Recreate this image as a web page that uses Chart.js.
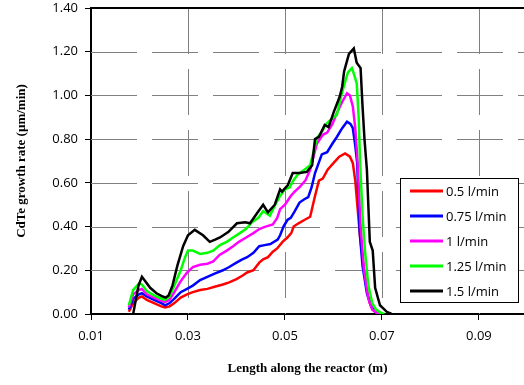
<!DOCTYPE html>
<html>
<head>
<meta charset="utf-8">
<script src="https://cdn.jsdelivr.net/npm/chart.js"></script>
<style>
  html, body { margin: 0; padding: 0; background: #fff; overflow: hidden; }
</style>
</head>
<body>
<canvas id="growth" width="524" height="385"></canvas>
<script>
// growth rate (um/min) along the reactor (m), one list of [x, y] per flow rate
var seriesNames = ["0.5 l/min", "0.75 l/min", "1 l/min", "1.25 l/min", "1.5 l/min"];
var seriesColors = ["#ff0000", "#0000ff", "#ff00ff", "#00ff00", "#000000"];

var flow05 = [[0.0178,0.01],[0.0187,0.05],[0.0199,0.075],[0.0205,0.08],[0.0215,0.065],[0.0230,0.05],[0.0245,0.035],[0.0253,0.03],[0.0262,0.035],[0.0272,0.05],[0.0285,0.075],[0.0298,0.09],[0.0310,0.10],[0.0325,0.11],[0.0340,0.115],[0.0355,0.125],[0.0372,0.135],[0.0385,0.145],[0.0400,0.16],[0.0412,0.175],[0.0422,0.19],[0.0435,0.20],[0.0447,0.235],[0.0455,0.25],[0.0465,0.26],[0.0475,0.285],[0.0484,0.30],[0.0495,0.33],[0.0505,0.35],[0.0513,0.37],[0.0518,0.40],[0.0528,0.415],[0.0540,0.43],[0.0552,0.445],[0.0562,0.54],[0.0570,0.61],[0.0578,0.62],[0.0588,0.66],[0.0600,0.69],[0.0612,0.72],[0.0624,0.735],[0.0634,0.72],[0.0640,0.69],[0.0645,0.61],[0.0650,0.48],[0.0655,0.35],[0.0662,0.22],[0.0669,0.11],[0.0675,0.05],[0.0681,0.02],[0.0688,0.005],[0.0695,0]];

var flow075 = [[0.0178,0.02],[0.0187,0.07],[0.0199,0.09],[0.0205,0.095],[0.0215,0.08],[0.0230,0.065],[0.0245,0.05],[0.0253,0.04],[0.0262,0.05],[0.0272,0.07],[0.0285,0.10],[0.0298,0.115],[0.0310,0.13],[0.0325,0.155],[0.0340,0.17],[0.0355,0.185],[0.0372,0.20],[0.0385,0.215],[0.0400,0.235],[0.0412,0.25],[0.0422,0.26],[0.0435,0.28],[0.0447,0.31],[0.0458,0.315],[0.0470,0.32],[0.0485,0.34],[0.0490,0.36],[0.0497,0.40],[0.0505,0.43],[0.0512,0.44],[0.0520,0.47],[0.0530,0.51],[0.0540,0.525],[0.0548,0.535],[0.0555,0.58],[0.0562,0.645],[0.0576,0.73],[0.0587,0.74],[0.0598,0.78],[0.0607,0.81],[0.0618,0.85],[0.0628,0.88],[0.0635,0.87],[0.0640,0.85],[0.0645,0.77],[0.0649,0.69],[0.0654,0.38],[0.0660,0.22],[0.0669,0.095],[0.0678,0.035],[0.0686,0.01],[0.0695,0]];

var flow1 = [[0.0178,0.03],[0.0187,0.09],[0.0199,0.11],[0.0205,0.115],[0.0215,0.09],[0.0230,0.075],[0.0245,0.06],[0.0253,0.055],[0.0262,0.065],[0.0272,0.10],[0.0285,0.15],[0.0298,0.19],[0.0310,0.215],[0.0325,0.225],[0.0340,0.23],[0.0352,0.24],[0.0365,0.27],[0.0380,0.29],[0.0393,0.31],[0.0405,0.33],[0.0420,0.35],[0.0435,0.37],[0.0448,0.39],[0.0460,0.40],[0.0475,0.41],[0.0484,0.44],[0.0490,0.48],[0.0500,0.50],[0.0512,0.54],[0.0520,0.56],[0.0530,0.58],[0.0542,0.61],[0.0552,0.66],[0.0560,0.73],[0.0566,0.78],[0.0578,0.82],[0.0587,0.83],[0.0598,0.87],[0.0607,0.92],[0.0618,0.97],[0.0628,1.01],[0.0634,1.0],[0.0640,0.95],[0.0645,0.85],[0.0650,0.69],[0.0656,0.40],[0.0663,0.20],[0.0672,0.07],[0.0680,0.02],[0.0690,0.005],[0.0698,0]];

var flow125 = [[0.0178,0.04],[0.0187,0.11],[0.0199,0.14],[0.0205,0.135],[0.0215,0.105],[0.0230,0.085],[0.0245,0.07],[0.0253,0.065],[0.0262,0.08],[0.0272,0.13],[0.0285,0.20],[0.0294,0.26],[0.0300,0.29],[0.0310,0.29],[0.0325,0.275],[0.0340,0.28],[0.0352,0.29],[0.0366,0.315],[0.0380,0.33],[0.0393,0.35],[0.0407,0.37],[0.0420,0.39],[0.0432,0.42],[0.0445,0.44],[0.0455,0.47],[0.0469,0.45],[0.0480,0.50],[0.0490,0.54],[0.0500,0.57],[0.0510,0.58],[0.0517,0.61],[0.0527,0.64],[0.0540,0.66],[0.0552,0.68],[0.0560,0.75],[0.0566,0.805],[0.0578,0.84],[0.0583,0.865],[0.0595,0.89],[0.0607,0.91],[0.0613,0.97],[0.0618,1.015],[0.0625,1.07],[0.0630,1.105],[0.0638,1.125],[0.0642,1.10],[0.0648,1.055],[0.0652,0.90],[0.0655,0.69],[0.0660,0.45],[0.0665,0.29],[0.0672,0.13],[0.0680,0.05],[0.0688,0.02],[0.0698,0.005],[0.0705,0]];

var flow15 = [[0.0187,0],[0.0192,0.06],[0.0198,0.13],[0.0205,0.17],[0.0212,0.15],[0.0222,0.12],[0.0235,0.095],[0.0248,0.08],[0.0254,0.075],[0.0260,0.085],[0.0268,0.13],[0.0278,0.22],[0.0290,0.31],[0.0300,0.36],[0.0314,0.385],[0.0331,0.36],[0.0345,0.33],[0.0356,0.34],[0.0366,0.35],[0.0383,0.375],[0.0401,0.415],[0.0418,0.42],[0.0428,0.415],[0.0442,0.46],[0.0455,0.50],[0.0465,0.465],[0.0479,0.50],[0.0490,0.57],[0.0494,0.56],[0.0506,0.59],[0.0516,0.645],[0.0530,0.645],[0.0545,0.65],[0.0556,0.68],[0.0562,0.80],[0.0570,0.81],[0.0582,0.865],[0.0590,0.855],[0.0600,0.92],[0.0613,0.995],[0.0618,1.04],[0.0622,1.11],[0.0627,1.15],[0.0632,1.19],[0.0642,1.215],[0.0648,1.15],[0.0656,1.125],[0.0660,0.95],[0.0664,0.80],[0.0669,0.66],[0.0675,0.33],[0.0681,0.29],[0.0686,0.12],[0.0696,0.04],[0.0710,0.01],[0.0720,0]];

var allSeries = [flow05, flow075, flow1, flow125, flow15];
var xTicks = [0.01, 0.03, 0.05, 0.07, 0.09];
var yTicks = [0, 0.2, 0.4, 0.6, 0.8, 1.0, 1.2, 1.4];

var tickFont = {family: "'Open Sans', sans-serif", size: 13};
var titleFont = {family: "'Liberation Serif', 'Times New Roman', serif", size: 13, weight: 'bold'};

// dashed grey grid, drawn from the scales before the curves
var dashedGrid = {
  id: 'dashedGrid',
  beforeDatasetsDraw: function(chart) {
    var c = chart.ctx, a = chart.chartArea, sx = chart.scales.x, sy = chart.scales.y;
    c.save();
    c.strokeStyle = '#808080';
    c.lineWidth = 1;
    c.setLineDash([46, 15]);
    xTicks.slice(1).forEach(function(v) {
      var x = Math.round(sx.getPixelForValue(v)) + 0.5;
      c.beginPath(); c.moveTo(x, a.top); c.lineTo(x, a.bottom); c.stroke();
    });
    yTicks.slice(1).forEach(function(v) {
      var y = Math.round(sy.getPixelForValue(v)) + 0.5;
      c.beginPath(); c.moveTo(a.left, y); c.lineTo(a.right, y); c.stroke();
    });
    c.restore();
  }
};

// top edge of the plot area + the boxed legend
var frameAndLegend = {
  id: 'frameAndLegend',
  afterDraw: function(chart) {
    var c = chart.ctx, a = chart.chartArea;
    c.save();
    c.strokeStyle = '#000';
    c.lineWidth = 2;
    c.beginPath();
    c.moveTo(a.left, a.top);
    c.lineTo(a.right, a.top);
    c.stroke();

    c.fillStyle = '#fff';
    c.fillRect(400, 178, 118, 124);
    c.lineWidth = 1;
    c.strokeRect(400.5, 178.5, 118, 124);
    c.font = "13px 'Open Sans', sans-serif";
    c.textBaseline = 'middle';
    for (var i = 0; i < seriesNames.length; i++) {
      var y = 191 + i * 25;
      c.strokeStyle = seriesColors[i];
      c.lineWidth = 3;
      c.beginPath();
      c.moveTo(410, y);
      c.lineTo(443, y);
      c.stroke();
      c.fillStyle = '#000';
      c.fillText(seriesNames[i], 446, y + 1);
    }
    c.restore();
  }
};

var growthChart = new Chart(document.getElementById("growth").getContext("2d"), {
  type: 'line',
  data: {
    datasets: allSeries.map(function(pts, i) {
      return {
        label: seriesNames[i],
        data: pts.map(function(p) { return {x: p[0], y: p[1]}; }),
        borderColor: seriesColors[i],
        borderWidth: 2.5,
        pointRadius: 0,
        fill: false,
        order: allSeries.length - i   // black on top, like the original
      };
    })
  },
  options: {
    responsive: false,
    animation: false,
    layout: {padding: {top: 8, left: 0, right: 0, bottom: 0}},
    plugins: {legend: {display: false}, tooltip: {enabled: false}},
    scales: {
      x: {
        type: 'linear', min: 0.01, max: 0.0993,
        afterBuildTicks: function(s) { s.ticks = xTicks.map(function(v) { return {value: v}; }); },
        afterFit: function(s) { s.height = 71; },
        ticks: {color: '#000', font: tickFont, padding: 8, maxRotation: 0, autoSkip: false,
          callback: function(v) { return v.toFixed(2); }},
        grid: {drawOnChartArea: false, tickLength: 6, tickColor: '#000'},
        border: {color: '#000', width: 2},
        title: {display: true, text: 'Length along the reactor (m)', color: '#000', font: titleFont, padding: {top: 4, bottom: 9}}
      },
      y: {
        min: 0, max: 1.4,
        afterBuildTicks: function(s) { s.ticks = yTicks.map(function(v) { return {value: v}; }); },
        afterFit: function(s) { s.width = 91; s.paddingTop = 0; s.paddingBottom = 0; },
        ticks: {color: '#000', font: tickFont, padding: 7, callback: function(v) { return v.toFixed(2); }},
        grid: {drawOnChartArea: false, tickLength: 6, tickColor: '#000'},
        border: {color: '#000', width: 2},
        title: {display: true, text: 'CdTe growth rate (µm/min)', color: '#000', font: titleFont, padding: {top: 14, bottom: 0}}
      }
    }
  },
  plugins: [dashedGrid, frameAndLegend]
});
</script>
</body>
</html>
